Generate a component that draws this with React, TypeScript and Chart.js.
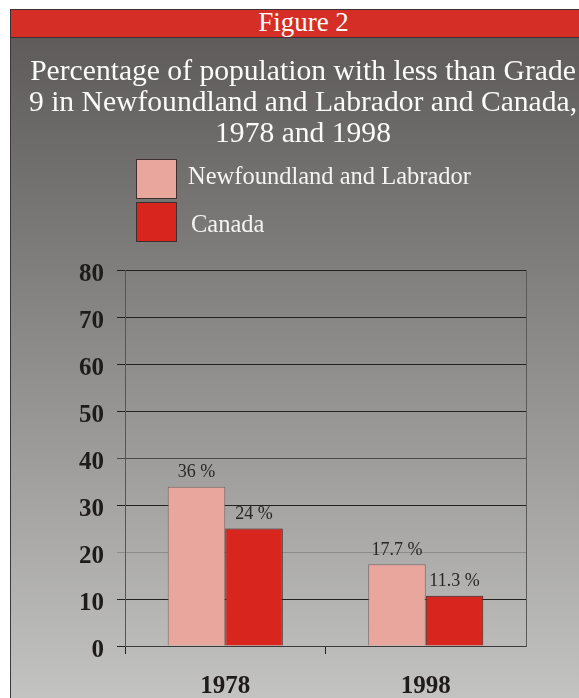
import React, { useEffect, useRef } from 'react';
import { Chart, registerables } from 'chart.js';

Chart.register(...registerables);

// ---- data ----
const FIGURE_LABEL = 'Figure 2';
const TITLE_LINES = [
  'Percentage of population with less than Grade',
  '9 in Newfoundland and Labrador and Canada,',
  '1978 and 1998',
];
const CATEGORIES = ['1978', '1998'];
const SERIES_NAMES = ['Newfoundland and Labrador', 'Canada'];
const NL_VALUES = [33.9, 17.4];
const CANADA_VALUES = [25.0, 10.7];
const NL_LABELS = ['36 %', '17.7 %'];
const CANADA_LABELS = ['24 %', '11.3 %'];
const Y_MIN = 0;
const Y_MAX = 80;
const Y_STEP = 10;

// ---- styles ----
const SERIF = '"Liberation Serif", "Times New Roman", serif';
const NL_COLOR = '#e9a69c';
const NL_BORDER = '#7a6664';
const CANADA_COLOR = '#d8261e';
const CANADA_BORDER = '#3d2220';
const HEADER_RED = '#d52e26';

export default function App() {
  const canvasRef = useRef<HTMLCanvasElement | null>(null);

  useEffect(() => {
    const canvas = canvasRef.current;
    if (!canvas) return;
    const valueLabels = [NL_LABELS, CANADA_LABELS];

    const labelPlugin = {
      id: 'valueLabels',
      afterDatasetsDraw(chart: any) {
        const ctx = chart.ctx;
        ctx.save();
        ctx.font = `18px ${SERIF}`;
        ctx.fillStyle = '#2a2626';
        ctx.textAlign = 'center';
        ctx.textBaseline = 'middle';
        chart.data.datasets.forEach((_ds: any, di: number) => {
          const meta = chart.getDatasetMeta(di);
          meta.data.forEach((el: any, i: number) => {
            ctx.fillText(valueLabels[di][i], el.x, el.y - 14);
          });
        });
        ctx.restore();
      },
    };

    const gridColor = (c: any) => {
      const v = c.tick ? c.tick.value : null;
      if (v === 20) return '#8c8c8c';
      if (v === 40) return '#4a4a4a';
      return '#222222';
    };

    const chart = new Chart(canvas, {
      type: 'bar',
      data: {
        labels: CATEGORIES,
        datasets: [
          {
            label: SERIES_NAMES[0],
            data: NL_VALUES,
            backgroundColor: NL_COLOR,
            borderColor: NL_BORDER,
            borderWidth: 1,
            yAxisID: 'y',
          },
          {
            label: SERIES_NAMES[1],
            data: CANADA_VALUES,
            backgroundColor: CANADA_COLOR,
            borderColor: CANADA_BORDER,
            borderWidth: 1,
            yAxisID: 'y',
          },
        ],
      },
      options: {
        responsive: false,
        animation: false,
        devicePixelRatio: 1,
        layout: { padding: 0 },
        datasets: { bar: { categoryPercentage: 0.574, barPercentage: 1 } },
        plugins: {
          legend: { display: false },
          tooltip: { enabled: false },
          title: {
            display: true,
            text: TITLE_LINES,
            color: '#fbfbfb',
            font: { family: SERIF, size: 29.6, weight: 'normal', lineHeight: 31 / 29.6 },
            padding: { top: 20, bottom: 120 },
          },
        },
        scales: {
          x: {
            type: 'category',
            offset: true,
            grid: {
              display: true,
              offset: true,
              drawOnChartArea: false,
              drawTicks: true,
              tickLength: 8,
              color: '#222222',
              tickColor: (c: any) => (c.type === 'tick' ? '#222222' : 'rgba(0,0,0,0)'),
            },
            border: { display: true, color: '#3a3a3a', width: 1 },
            ticks: {
              color: '#1f1b1b',
              font: { family: SERIF, size: 25, weight: 'bold' },
              padding: 18,
              maxRotation: 0,
            },
            afterFit: (s: any) => {
              s.height = 52;
            },
          },
          y: {
            type: 'linear',
            position: 'left',
            min: Y_MIN,
            max: Y_MAX,
            grid: {
              display: true,
              drawTicks: true,
              tickLength: 8,
              color: gridColor,
              lineWidth: 1,
            },
            border: { display: true, color: '#555555', width: 1 },
            ticks: {
              stepSize: Y_STEP,
              color: '#1f1b1b',
              font: { family: SERIF, size: 25, weight: 'bold' },
              padding: 13,
              labelOffset: 5,
            },
            afterFit: (s: any) => {
              s.width = 115;
            },
          },
          y2: {
            type: 'linear',
            position: 'right',
            display: true,
            grid: { display: false, drawTicks: false },
            border: { display: true, color: '#5a5a5a', width: 1 },
            ticks: { display: false },
            afterFit: (s: any) => {
              s.width = 70;
            },
          },
        },
      } as any,
      plugins: [labelPlugin],
    });

    return () => chart.destroy();
  }, []);

  return (
    <div
      style={{
        position: 'absolute',
        left: 0,
        top: 0,
        width: 579,
        height: 698,
        overflow: 'hidden',
        background: '#ffffff',
      }}
    >
      <div
        style={{
          position: 'absolute',
          left: 10,
          top: 9,
          width: 586,
          height: 29,
          boxSizing: 'border-box',
          background: HEADER_RED,
          borderTop: '1px solid #3b3333',
          borderLeft: '1px solid #3b3333',
          borderBottom: '1px solid #3b3333',
          color: '#ffffff',
          fontFamily: SERIF,
          fontSize: 27,
          lineHeight: '25px',
          textAlign: 'center',
          whiteSpace: 'nowrap',
        }}
      >
        {FIGURE_LABEL}
      </div>
      <div
        style={{
          position: 'absolute',
          left: 10,
          top: 38,
          width: 586,
          height: 660,
          boxSizing: 'border-box',
          borderLeft: '1px solid #3a3a3a',
          background: 'linear-gradient(to bottom, #5e5b5a 0%, #8a8988 45%, #c3c3c1 100%)',
        }}
      />
      <canvas
        ref={canvasRef}
        width={586}
        height={661}
        style={{ position: 'absolute', left: 10, top: 37, width: 586, height: 661 }}
      />
      <div
        style={{
          position: 'absolute',
          left: 136,
          top: 159,
          width: 41,
          height: 40,
          boxSizing: 'border-box',
          background: NL_COLOR,
          border: '1px solid #3c2f2e',
        }}
      />
      <div
        style={{
          position: 'absolute',
          left: 136,
          top: 202,
          width: 41,
          height: 40,
          boxSizing: 'border-box',
          background: CANADA_COLOR,
          border: '1px solid #3c2f2e',
        }}
      />
      <div
        style={{
          position: 'absolute',
          left: 188,
          top: 164,
          fontFamily: SERIF,
          fontSize: 24.5,
          lineHeight: '24.5px',
          color: '#f4f4f4',
          whiteSpace: 'nowrap',
        }}
      >
        {SERIES_NAMES[0]}
      </div>
      <div
        style={{
          position: 'absolute',
          left: 191,
          top: 212,
          fontFamily: SERIF,
          fontSize: 24.5,
          lineHeight: '24.5px',
          color: '#f4f4f4',
          whiteSpace: 'nowrap',
        }}
      >
        {SERIES_NAMES[1]}
      </div>
    </div>
  );
}
